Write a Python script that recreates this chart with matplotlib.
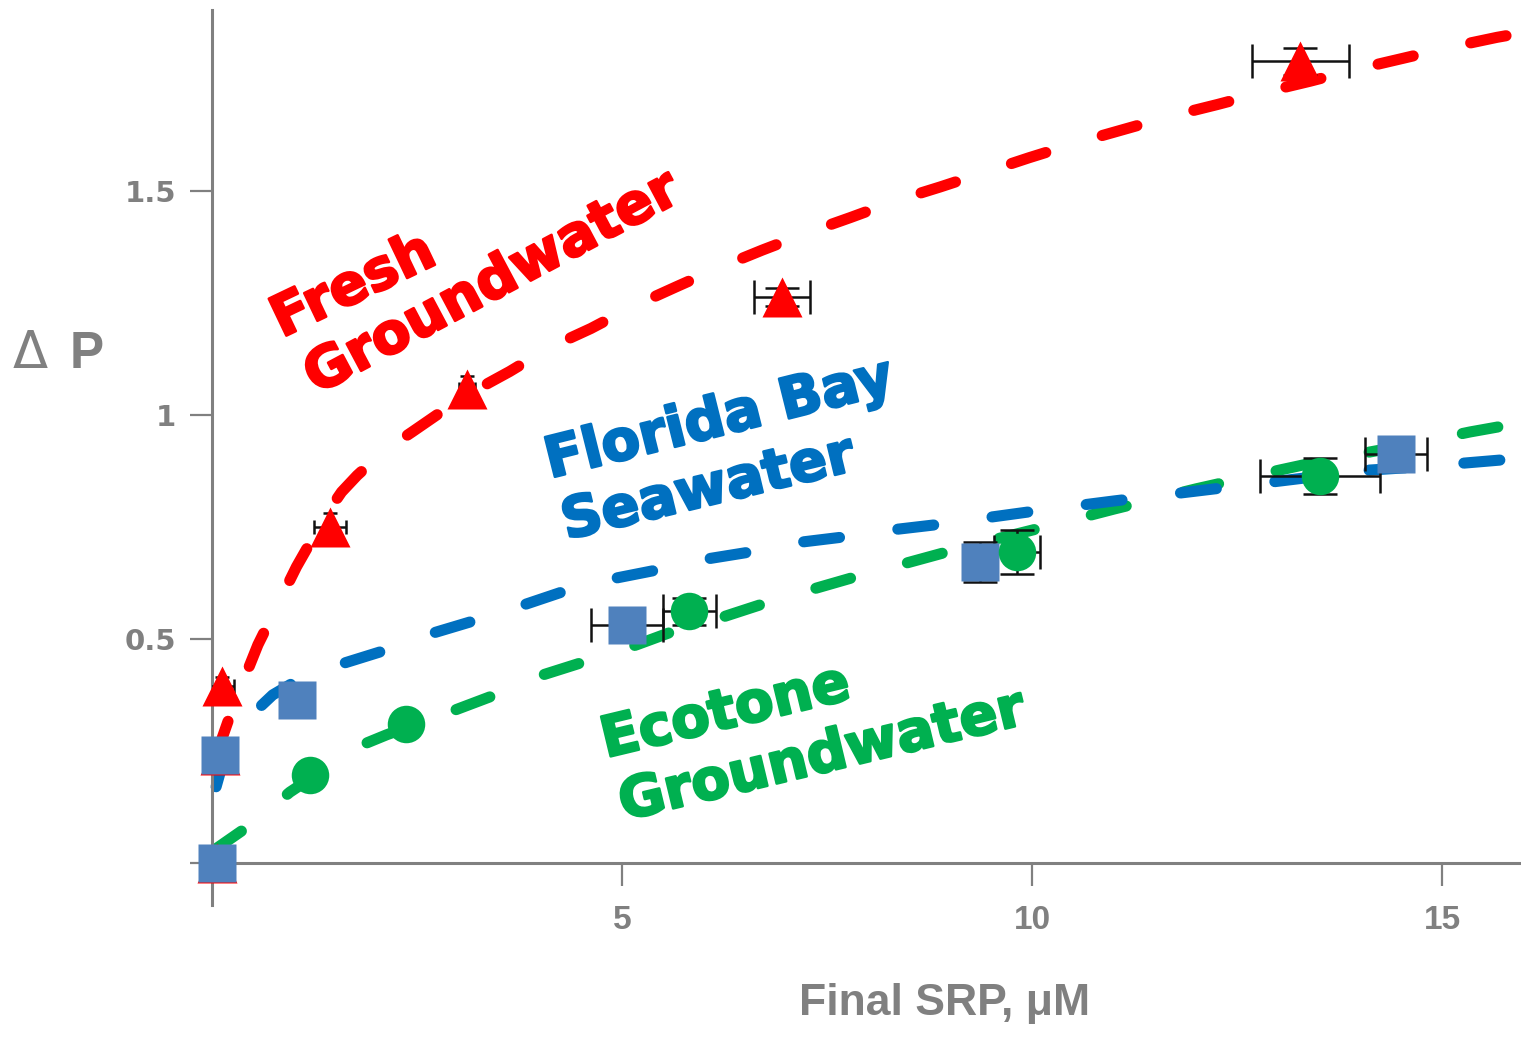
import matplotlib
matplotlib.use('Agg')
import matplotlib.pyplot as plt
import matplotlib.patheffects as pe

# ---------------- data ----------------
fresh_x = [0.06, 0.10, 0.12, 1.44, 3.11, 6.95, 13.27]
fresh_y = [0.00, 0.241, 0.395, 0.75, 1.058, 1.263, 1.79]
fresh_xerr = [0.0, 0.0, 0.15, 0.20, 0.10, 0.34, 0.59]
fresh_yerr = [0.0, 0.0, 0.02, 0.03, 0.03, 0.02, 0.03]

sea_x = [0.06, 0.10, 1.04, 5.06, 9.36, 14.44]
sea_y = [0.00, 0.241, 0.364, 0.532, 0.672, 0.913]
sea_xerr = [0.0, 0.0, 0.0, 0.44, 0.15, 0.38]
sea_yerr = [0.0, 0.0, 0.0, 0.0, 0.045, 0.0]

eco_x = [1.20, 2.37, 5.82, 9.82, 13.51]
eco_y = [0.197, 0.31, 0.562, 0.694, 0.864]
eco_xerr = [0.10, 0.10, 0.32, 0.28, 0.73]
eco_yerr = [0.02, 0.02, 0.03, 0.05, 0.04]

fresh_fit_x = [0.05, 0.26, 0.56, 1.03, 1.40, 1.58, 1.77, 2.10, 2.44, 2.90, 3.37, 3.63,
               4.11, 4.62, 5.13, 5.66, 6.20, 6.71, 7.28, 7.79, 8.37, 8.88, 9.48, 9.96,
               10.59, 11.13, 11.71, 12.26, 12.82, 13.39, 13.96, 14.52, 15.10, 15.67, 15.95]
fresh_fit_y = [0.24, 0.35, 0.487, 0.661, 0.78, 0.828, 0.865, 0.92, 0.962, 1.02, 1.071, 1.097,
               1.150, 1.193, 1.242, 1.286, 1.330, 1.368, 1.408, 1.441, 1.480, 1.509, 1.545, 1.574,
               1.610, 1.638, 1.668, 1.693, 1.720, 1.745, 1.772, 1.796, 1.821, 1.843, 1.852]

sea_fit_x = [0.05, 0.15, 0.30, 0.52, 0.74, 1.00, 1.54, 2.05, 2.62, 3.15, 3.72, 4.24, 4.82,
             5.43, 5.95, 6.56, 7.09, 7.72, 8.27, 8.88, 9.50, 10.10, 11.00, 12.00, 13.00,
             14.12, 14.73, 15.30, 15.95]
sea_fit_y = [0.17, 0.235, 0.29, 0.337, 0.375, 0.403, 0.442, 0.471, 0.509, 0.538, 0.571, 0.603, 0.632,
             0.654, 0.676, 0.694, 0.714, 0.728, 0.743, 0.756, 0.772, 0.787, 0.808, 0.830, 0.852,
             0.877, 0.884, 0.893, 0.903]

eco_fit_x = [0.03, 0.06, 0.50, 0.95, 1.50, 1.89, 2.13, 2.96, 3.51, 4.04, 4.61, 5.18, 5.67,
             6.23, 6.80, 7.38, 7.93, 8.48, 9.00, 9.61, 10.20, 11.00, 12.00, 13.02, 13.60,
             14.50, 15.34, 15.95]
eco_fit_y = [0.02, 0.033, 0.089, 0.158, 0.225, 0.268, 0.286, 0.341, 0.379, 0.42, 0.453, 0.487, 0.52,
             0.549, 0.583, 0.614, 0.643, 0.670, 0.696, 0.725, 0.752, 0.790, 0.835, 0.877, 0.900,
             0.930, 0.962, 0.982]

y_ticks = [0, 0.5, 1, 1.5]
y_ticklabels = ['', '0.5', '1', '1.5']
x_ticks = [5, 10, 15]
x_ticklabels = ['5', '10', '15']

# ---------------- style ----------------
W, H = 1521, 1038
GRAY = '#808080'
RED = '#FF0000'
BLUE_LINE = '#0070C0'
BLUE_MK = '#4F81BD'
GREEN = '#00B050'

fig = plt.figure(figsize=(W / 100, H / 100), dpi=100)
ax = fig.add_axes([212 / W, (H - 905) / H, (1520 - 212) / W, (905 - 10) / H])
ax.set_xlim(0, 15.95)
ax.set_ylim(-0.094, 1.904)

for s in ['top', 'right']:
    ax.spines[s].set_visible(False)
for s in ['left', 'bottom']:
    ax.spines[s].set_color(GRAY)
    ax.spines[s].set_linewidth(2.2)
ax.spines['bottom'].set_position(('data', 0))

ax.set_xticks(x_ticks)
ax.set_xticklabels(x_ticklabels)
ax.set_yticks(y_ticks)
ax.set_yticklabels(y_ticklabels)
ax.tick_params(axis='x', direction='out', length=16.5, width=1.6, color=GRAY, pad=14,
               labelsize=24, labelcolor=GRAY)
ax.tick_params(axis='y', direction='out', length=16, width=1.6, color=GRAY, pad=10,
               labelsize=21, labelcolor=GRAY)
for lab in ax.get_xticklabels():
    lab.set_family(['Liberation Sans', 'DejaVu Sans'])
    lab.set_fontweight('bold')
for lab in ax.get_yticklabels():
    lab.set_family(['DejaVu Sans'])
    lab.set_fontweight('bold')

LW = 8
DASH = (3.25, 5.3)


def fit_line(x, y, color):
    ln, = ax.plot(x, y, color=color, lw=LW, zorder=2, clip_on=False,
                  solid_capstyle='round', dash_capstyle='round')
    ln.set_dashes(DASH)
    ln.set_dash_capstyle('round')


fit_line(eco_fit_x, eco_fit_y, GREEN)
fit_line(sea_fit_x, sea_fit_y, BLUE_LINE)
fit_line(fresh_fit_x, fresh_fit_y, RED)


def err_bars(xs, ys, xe, ye):
    for xi, yi, xei, yei in zip(xs, ys, xe, ye):
        if xei == 0 and yei == 0:
            continue
        cap = 12 if xei > 0.25 or yei > 0.04 else 5
        ax.errorbar([xi], [yi], xerr=[xei], yerr=[yei], fmt='none', ecolor='#111111',
                    elinewidth=1.8, capthick=1.8, capsize=cap, zorder=3)


err_bars(fresh_x, fresh_y, fresh_xerr, fresh_yerr)
err_bars(sea_x, sea_y, sea_xerr, sea_yerr)
err_bars(eco_x, eco_y, eco_xerr, eco_yerr)

ax.plot(fresh_x, fresh_y, ls='none', marker='^', ms=29, color=RED, mec='none',
        zorder=4, clip_on=False)
ax.plot(sea_x, sea_y, ls='none', marker='s', ms=28, color=BLUE_MK, mec='none',
        zorder=5, clip_on=False)
ax.plot(eco_x, eco_y, ls='none', marker='o', ms=27, color=GREEN, mec='none',
        zorder=6, clip_on=False)


def label(x, y, s, color, rot):
    ax.text(x, y, s, color=color, rotation=rot, fontsize=40.5, fontweight='bold',
            family=['DejaVu Sans'], ha='left', va='baseline', rotation_mode='anchor',
            zorder=7, path_effects=[pe.Stroke(linewidth=1.8, foreground=color), pe.Normal()])


label(0.85, 1.172, 'Fresh', RED, 25.5)
label(1.27, 1.045, 'Groundwater', RED, 28)
label(4.12, 0.859, 'Florida Bay', BLUE_LINE, 14)
label(4.32, 0.722, 'Seawater', BLUE_LINE, 13.5)
label(4.80, 0.235, 'Ecotone', GREEN, 13.5)
label(5.02, 0.095, 'Groundwater', GREEN, 13.5)

# axis titles
fig.text(13 / W, 1 - 368 / H, 'Δ', fontsize=37, color=GRAY, ha='left', va='baseline',
         family=['DejaVu Sans'])
fig.text(70 / W, 1 - 368 / H, 'P', fontsize=37, color=GRAY, ha='left', va='baseline',
         fontweight='bold', family=['Liberation Sans', 'DejaVu Sans'])
fig.text(945 / W, 1 - 1015 / H, 'Final SRP, μM', fontsize=32, color=GRAY, ha='center',
         va='baseline', fontweight='bold', family=['Liberation Sans', 'DejaVu Sans'])

fig.savefig('out.png', dpi=100, facecolor='white')
